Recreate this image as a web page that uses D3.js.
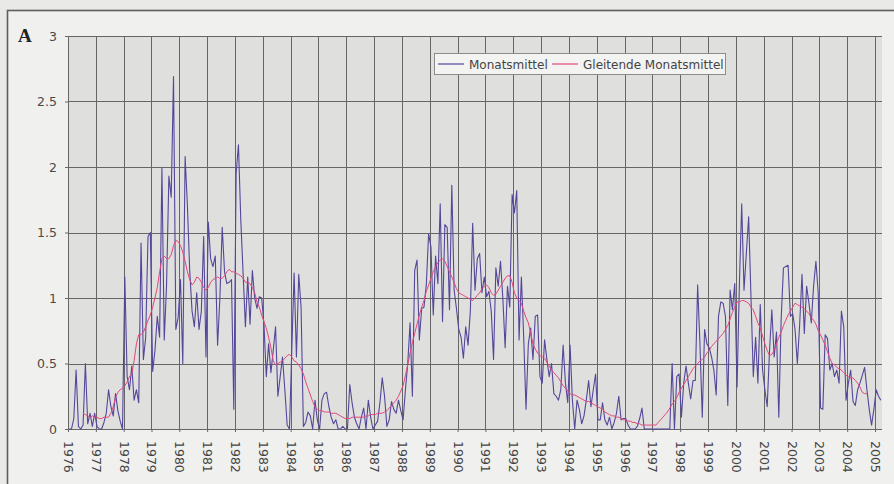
<!DOCTYPE html>
<html>
<head>
<meta charset="utf-8">
<script src="https://cdn.jsdelivr.net/npm/d3@7"></script>
<style>
  html, body { margin: 0; padding: 0; background: #e9e9e7; }
  svg { display: block; }
  text { font-family: "DejaVu Sans", sans-serif; }
</style>
</head>
<body>
<script>
// tick labels
var jahre = [1976, 1977, 1978, 1979, 1980, 1981, 1982, 1983, 1984, 1985,
  1986, 1987, 1988, 1989, 1990, 1991, 1992, 1993, 1994, 1995,
  1996, 1997, 1998, 1999, 2000, 2001, 2002, 2003, 2004, 2005]
var yTicks = [0, 0.5, 1, 1.5, 2, 2.5, 3]

// Monatsmittel, Jan 1976 .. Mar 2005 (one row per year)
var monatsmittel = [
  0, 0, 0.08, 0.45, 0.02, 0, 0.03, 0.5, 0.04, 0.12, 0.02, 0.12,
  0.02, 0, 0, 0.05, 0.12, 0.3, 0.17, 0.1, 0.27, 0.14, 0.06, 0,
  1.16, 0.4, 0.3, 0.48, 0.22, 0.3, 0.2, 1.42, 0.53, 0.7, 1.47, 1.5,
  0.44, 0.6, 0.86, 0.7, 1.99, 0.68, 1.1, 1.93, 1.77, 2.69, 0.76, 0.85,
  1.14, 0.5, 2.08, 1.7, 1.2, 0.9, 0.78, 1.04, 0.76, 0.9, 1.47, 0.55,
  1.58, 1.3, 1.24, 1.32, 0.64, 1.0, 1.54, 1.2, 1.11, 1.12, 1.14, 0.15,
  1.95, 2.17, 1.6, 1.19, 0.78, 1.16, 0.8, 1.21, 1.0, 0.92, 1.01, 1.0,
  0.8, 0.4, 0.65, 0.43, 0.6, 0.78, 0.25, 0.4, 0.55, 0.3, 0.03, 0,
  0.6, 1.19, 0.55, 1.18, 0.93, 0.02, 0.05, 0.13, 0.1, 0, 0.22, 0.07,
  0, 0.22, 0.27, 0.28, 0.17, 0.09, 0.04, 0.07, 0, 0, 0.02, 0,
  0, 0.34, 0.2, 0.09, 0.04, 0, 0.09, 0.16, 0, 0.22, 0.09, 0,
  0.03, 0.06, 0.2, 0.39, 0.25, 0.02, 0.07, 0.21, 0.15, 0.12, 0.22, 0.14,
  0.07, 0.3, 0.5, 0.81, 0.25, 1.21, 1.29, 0.68, 0.92, 0.93, 1.1, 1.49,
  1.39, 0.87, 1.32, 1.11, 1.72, 0.82, 1.56, 1.54, 0.91, 1.86, 1.06, 0.92,
  0.76, 0.7, 0.54, 0.78, 0.64, 0.9, 1.57, 1.06, 1.3, 1.34, 1.04, 1.16,
  1.01, 1.05, 0.9, 0.53, 1.23, 1.09, 1.28, 1.0, 0.62, 1.09, 0.93, 1.79,
  1.65, 1.82, 0.68, 1.16, 0.7, 0.15, 0.65, 0.77, 0.53, 0.86, 0.87, 0.4,
  0.35, 0.68, 0.53, 0.4, 0.5, 0.27, 0.25, 0.22, 0.3, 0.64, 0.35, 0.2,
  0.64, 0.22, 0, 0.22, 0.15, 0.04, 0.1, 0.22, 0.37, 0.17, 0.3, 0.42,
  0.07, 0.07, 0.2, 0.07, 0.03, 0.09, 0, 0.05, 0.12, 0.25, 0.07, 0.08,
  0.08, 0.03, 0, 0, 0, 0.02, 0.08, 0.16, 0, 0, 0, 0,
  0, 0, 0, 0, 0, 0, 0, 0, 0.5, 0, 0.4, 0.42,
  0.09, 0.35, 0.48, 0.35, 0.23, 0.37, 0.37, 1.1, 0.65, 0.09, 0.76, 0.65,
  0.62, 0.55, 0.45, 0.26, 0.86, 0.97, 0.96, 0.86, 0.18, 1.06, 0.91, 1.11,
  0.32, 1.1, 1.72, 1.06, 1.34, 1.62, 1.01, 0.4, 0.7, 0.35, 0.95, 0.45,
  0.3, 0.17, 0.6, 0.91, 0.55, 0.74, 0.09, 0.83, 1.23, 1.24, 1.25, 0.86,
  0.88, 0.76, 0.5, 0.8, 1.18, 0.73, 1.09, 0.96, 0.81, 1.09, 1.28, 1.04,
  0.16, 0.15, 0.72, 0.69, 0.45, 0.5, 0.4, 0.45, 0.35, 0.9, 0.78, 0.22,
  0.35, 0.45, 0.21, 0.18, 0.3, 0.35, 0.41, 0.47, 0.3, 0.15, 0.03, 0.15,
  0.3, 0.25, 0.22
]

// Gleitende Monatsmittel (null where not given)
var gleitend = [
  null, null, null, null, null, null, .12, .11, .10, .09, .10, .09,
  .09, .08, .08, .09, .09, .09, .12, .17, .24, .28, .30, .31,
  .33, .36, .40, .42, .52, .65, .72, .72, .74, .78, .83, .87,
  .93, 1.0, 1.08, 1.2, 1.3, 1.32, 1.30, 1.30, 1.33, 1.40, 1.44, 1.43,
  1.40, 1.35, 1.28, 1.2, 1.14, 1.10, 1.12, 1.16, 1.15, 1.12, 1.08, 1.06,
  1.08, 1.12, 1.14, 1.15, 1.16, 1.15, 1.15, 1.17, 1.20, 1.22, 1.20, 1.20,
  1.19, 1.18, 1.17, 1.15, 1.12, 1.12, 1.11, 1.08, 1.04, .97, .93, .87,
  .82, .77, .70, .62, .52, .49, .50, .51, .52, .54, .56, .57,
  .55, .52, .51, .49, .46, .42, .36, .31, .26, .21, .17, .15,
  .14, .14, .13, .13, .13, .12, .12, .12, .11, .10, .09, .08,
  .08, .08, .09, .09, .09, .09, .09, .09, .10, .10, .11, .11,
  .11, .12, .12, .12, .13, .14, .16, .18, .20, .22, .25, .29,
  .33, .41, .49, .58, .66, .73, .80, .87, .93, .98, 1.05, 1.10,
  1.15, 1.20, 1.24, 1.27, 1.29, 1.30, 1.28, 1.24, 1.20, 1.16, 1.12, 1.07,
  1.04, 1.03, 1.02, 1.01, 1.00, .99, .98, 1.00, 1.02, 1.04, 1.07, 1.09,
  1.10, 1.08, 1.04, 1.02, 1.03, 1.06, 1.09, 1.12, 1.15, 1.17, 1.17, 1.12,
  1.04, 1.00, .98, .96, .90, .85, .81, .73, .65, .61, .58, .56,
  .55, .54, .51, .48, .45, .43, .41, .39, .36, .33, .31, .29,
  .27, .26, .26, .25, .24, .23, .22, .21, .21, .20, .19, .18,
  .17, .16, .15, .13, .12, .11, .10, .10, .09, .09, .08, .07,
  .07, .06, .06, .05, .05, .04, .04, .03, .03, .03, .03, .03,
  .03, .03, .05, .07, .09, .11, .13, .16, .19, .21, .24, .28,
  .31, .34, .37, .40, .43, .46, .48, .50, .52, .53, .55, .58,
  .60, .63, .65, .67, .69, .71, .73, .76, .79, .84, .89, .93,
  .97, .97, .98, .98, .97, .96, .93, .91, .86, .81, .77, .71,
  .65, .60, .56, .57, .60, .65, .70, .74, .79, .83, .87, .90,
  .93, .96, .95, .94, .93, .92, .90, .88, .85, .83, .80, .75,
  .72, .68, .64, .59, .54, .50, .49, .47, .46, .45, .43, .41,
  .40, .39, .39, .37, .35, .32, .28, .27, .27, null, null, null,
  null, null, null
]

var serien = [
  {name: 'Monatsmittel', values: monatsmittel, color: '#54479a', w: 1.1},
  {name: 'Gleitende Monatsmittel', values: gleitend, color: '#e4467a', w: 1}
]

var W = 894, H = 484
var svg = d3.select('body').append('svg').attr('width', W).attr('height', H)

// outer panel
svg.append('rect')
  .attr('x', 7.5).attr('y', 10.5).attr('width', 900).attr('height', 500)
  .attr('fill', '#f0f0ee').attr('stroke', '#5e5e5e').attr('stroke-width', 1.6)

var x = d3.scaleLinear().domain([0, monatsmittel.length]).range([68, 882])
var y = d3.scaleLinear().domain([0, 3]).range([429, 36])

svg.append('rect')
  .attr('x', x(0)).attr('y', y(3))
  .attr('width', x(monatsmittel.length) - x(0)).attr('height', y(0) - y(3))
  .attr('fill', '#dfdfde')

// grid
var tickIdx = jahre.map(function(j){ return (j - jahre[0]) * 12 })

svg.append('g').selectAll('line').data(tickIdx).join('line')
  .attr('x1', function(d){ return Math.round(x(d)) + 0.5 })
  .attr('x2', function(d){ return Math.round(x(d)) + 0.5 })
  .attr('y1', y(3)).attr('y2', y(0))
  .attr('stroke', '#666').attr('stroke-width', 1)

svg.append('g').selectAll('line').data(yTicks).join('line')
  .attr('x1', x(0)).attr('x2', x(monatsmittel.length))
  .attr('y1', function(d){ return Math.round(y(d)) + 0.5 })
  .attr('y2', function(d){ return Math.round(y(d)) + 0.5 })
  .attr('stroke', '#666').attr('stroke-width', 1)

// axes
var xAxis = svg.append('g')
  .attr('transform', 'translate(0,' + y(0) + ')')
  .call(d3.axisBottom(x).tickValues(tickIdx).tickSize(3)
    .tickFormat(function(d, i){ return jahre[i] }))
xAxis.select('.domain').remove()
xAxis.selectAll('line').attr('stroke', '#666')
xAxis.selectAll('text')
  .attr('transform', 'rotate(90)')
  .attr('x', 12).attr('y', 0).attr('dy', '0.36em')
  .style('text-anchor', 'start')
  .style('font-size', '12.5px')
  .attr('fill', '#444')

var yAxis = svg.append('g')
  .attr('transform', 'translate(' + x(0) + ',0)')
  .call(d3.axisLeft(y).tickValues(yTicks).tickSize(3).tickPadding(8)
    .tickFormat(d3.format('')))
yAxis.select('.domain').remove()
yAxis.selectAll('line').attr('stroke', '#666')
yAxis.selectAll('text').style('font-size', '12.5px').attr('fill', '#4a4a4a')

// lines
var line = d3.line()
  .defined(function(d){ return d != null })
  .x(function(d, i){ return x(i + 0.5) })
  .y(function(d){ return y(d) })

serien.forEach(function(s){
  svg.append('path').datum(s.values)
    .attr('d', line)
    .attr('fill', 'none')
    .attr('stroke', s.color)
    .attr('stroke-width', s.w)
    .attr('stroke-linejoin', 'round')
})

// legend
var leg = svg.append('g').attr('transform', 'translate(434,53)')
leg.append('rect').attr('x', 0.5).attr('y', 0.5).attr('width', 291).attr('height', 21)
  .attr('fill', '#f3f3f2').attr('stroke', '#8c8c8c')
var legX = [4, 118]
serien.forEach(function(s, i){
  leg.append('line')
    .attr('x1', legX[i]).attr('x2', legX[i] + 26).attr('y1', 11).attr('y2', 11)
    .attr('stroke', s.color).attr('stroke-width', 1.2)
  leg.append('text')
    .attr('x', legX[i] + 31).attr('y', 15.5)
    .style('font-size', '12px').attr('fill', '#444')
    .text(s.name)
})

svg.append('text')
  .attr('x', 18).attr('y', 42)
  .style('font-family', '"Liberation Serif", serif')
  .style('font-weight', 'bold').style('font-size', '19px')
  .attr('fill', '#222')
  .text('A')
</script>
</body>
</html>
